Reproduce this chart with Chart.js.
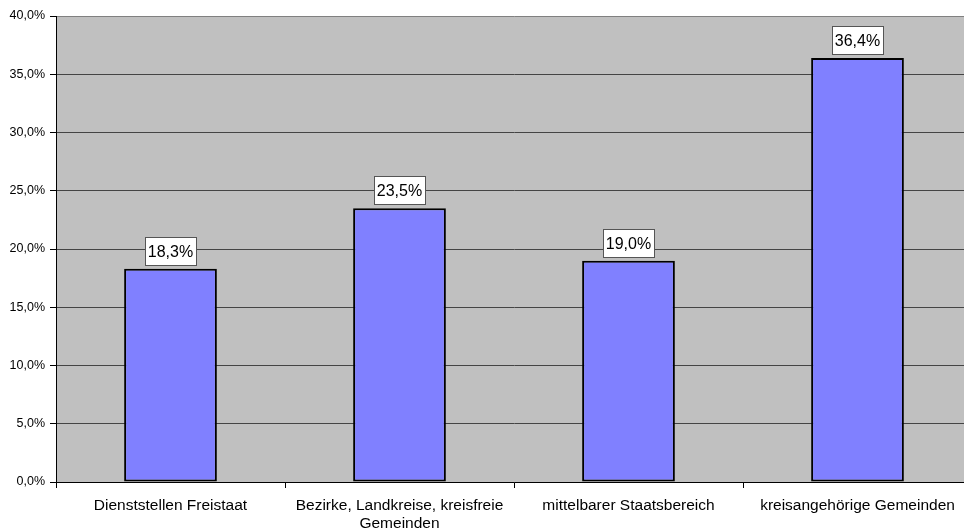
<!DOCTYPE html>
<html>
<head>
<meta charset="utf-8">
<script src="https://cdn.jsdelivr.net/npm/chart.js@4/dist/chart.umd.min.js"></script>
<style>
    html, body { margin: 0; padding: 0; background: #fff; overflow: hidden; }
    #wrap { position: relative; width: 990px; height: 532px; }
</style>
</head>
<body>
<div id="wrap"><canvas id="chart"></canvas></div>
<script>
// Daten
const categories = [
    'Dienststellen Freistaat',
    ['Bezirke, Landkreise, kreisfreie', 'Gemeinden'],
    'mittelbarer Staatsbereich',
    'kreisangehörige Gemeinden'
];
const shares = [18.3, 23.5, 19.0, 36.4];
const yTicks = [0, 5, 10, 15, 20, 25, 30, 35, 40];

const fontFamily = '"Liberation Sans", Arial, sans-serif';
const fmt = v => v.toFixed(1).replace('.', ',') + '%';

// grauer Hintergrund der Zeichenfläche
const plotBackground = {
    id: 'plotBackground',
    beforeDraw(chart) {
        const { ctx, chartArea: a } = chart;
        ctx.save();
        ctx.fillStyle = '#c0c0c0';
        ctx.fillRect(a.left, a.top, a.right - a.left, a.bottom - a.top);
        ctx.restore();
    }
};

// Wertbeschriftung in weißen Kästchen
const valueBoxes = {
    id: 'valueBoxes',
    afterDatasetsDraw(chart) {
        const ctx = chart.ctx;
        const meta = chart.getDatasetMeta(0);
        ctx.save();
        ctx.font = '16px ' + fontFamily;
        ctx.textAlign = 'center';
        ctx.textBaseline = 'middle';
        meta.data.forEach((bar, i) => {
            const text = fmt(shares[i]);
            const w = Math.round(ctx.measureText(text).width) + 6;
            const h = 28;
            const x = Math.round(bar.x - w / 2) + 0.5;
            const y = Math.round(bar.y - 4 - h) + 0.5;
            ctx.fillStyle = '#fff';
            ctx.fillRect(x, y, w, h);
            ctx.strokeStyle = '#555';
            ctx.lineWidth = 1;
            ctx.strokeRect(x, y, w, h);
            ctx.fillStyle = '#000';
            ctx.fillText(text, bar.x, y + h / 2 + 1);
        });
        ctx.restore();
    }
};

new Chart(document.getElementById('chart'), {
    type: 'bar',
    data: {
        labels: categories,
        datasets: [{
            data: shares,
            backgroundColor: '#8080ff',
            borderColor: '#000',
            borderWidth: 2,
            borderSkipped: false,
            categoryPercentage: 1,
            barPercentage: 0.405
        }]
    },
    options: {
        responsive: true,
        maintainAspectRatio: false,
        animation: false,
        layout: { padding: { left: 0, right: 18, top: 16, bottom: 0 } },
        plugins: {
            legend: { display: false },
            tooltip: { enabled: false }
        },
        scales: {
            x: {
                offset: true,
                grid: {
                    offset: true,
                    drawOnChartArea: false,
                    drawTicks: true,
                    tickLength: 6,
                    color: '#000'
                },
                border: { color: '#000', width: 1 },
                ticks: {
                    color: '#000',
                    font: { family: fontFamily, size: 15.5, lineHeight: 1.2 },
                    padding: 8,
                    maxRotation: 0,
                    autoSkip: false
                },
                afterFit(scale) { scale.height = 50; }
            },
            y: {
                min: 0,
                max: 40,
                afterBuildTicks(scale) {
                    scale.ticks = yTicks.map(v => ({ value: v }));
                },
                grid: {
                    color: ctx => ctx.tick && ctx.tick.value === 40 ? '#808080' : '#444',
                    lineWidth: 1,
                    tickLength: 6,
                    tickColor: '#000'
                },
                border: { color: '#000', width: 1 },
                ticks: {
                    color: '#000',
                    font: { family: fontFamily, size: 12.5 },
                    padding: 5,
                    callback: v => fmt(v)
                },
                afterFit(scale) { scale.width = 56; }
            }
        }
    },
    plugins: [plotBackground, valueBoxes]
});
</script>
</body>
</html>
